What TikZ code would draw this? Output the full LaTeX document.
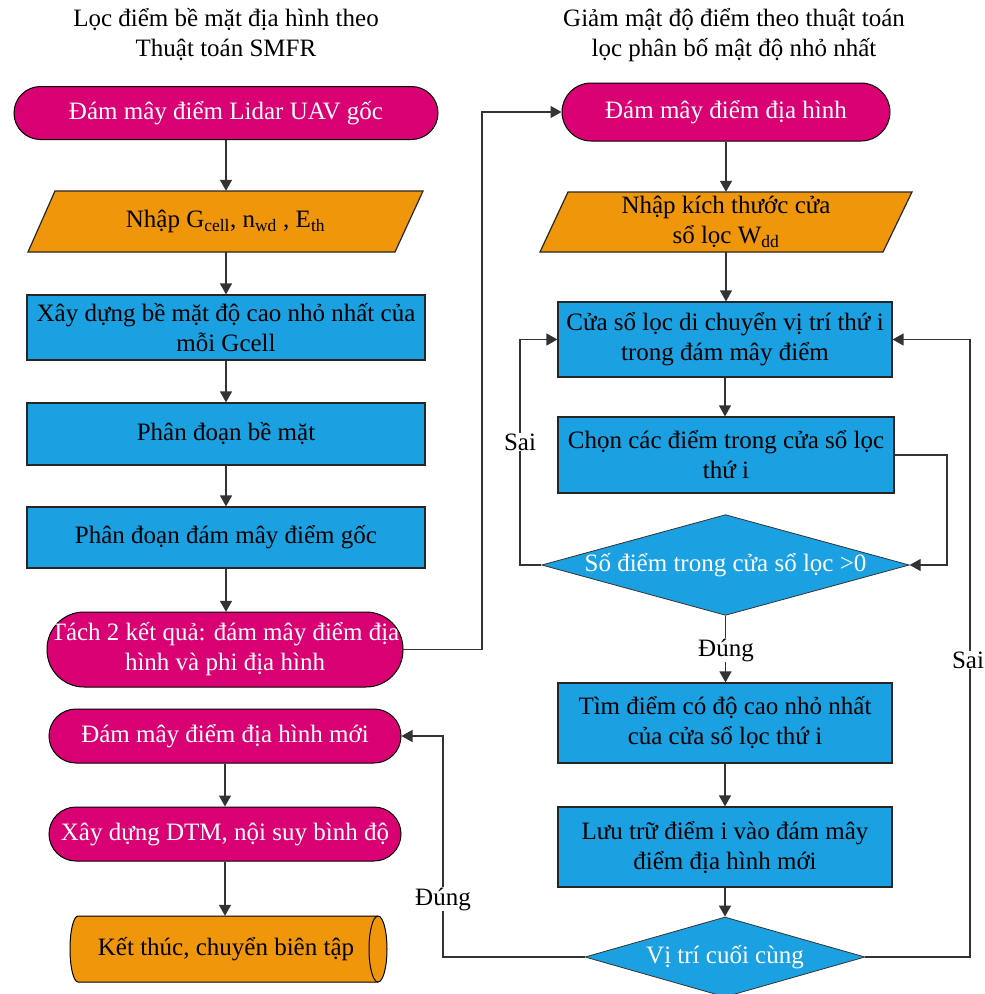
\documentclass[tikz,border=0pt]{standalone}
\usepackage{fontspec}
\setmainfont{Liberation Serif}
\usetikzlibrary{shapes.geometric,shapes.misc,arrows.meta,calc}
\definecolor{mag}{HTML}{D80073}
\definecolor{amb}{HTML}{F0960A}
\definecolor{cya}{HTML}{1BA1E2}
\definecolor{lin}{HTML}{333333}
\begin{document}
\begin{tikzpicture}[x=1pt,y=-1pt,
  every node/.style={font=\fontsize{25}{30}\selectfont, align=center, inner sep=2pt},
  term/.style={rounded rectangle, draw=black, line width=1pt, fill=mag, text=white},
  termfill/.style={fill=mag, draw=black, line width=1pt},
  proc/.style={rectangle, draw=black!85, line width=1.2pt, fill=cya, text=black},
  decis/.style={diamond, draw=black!80, line width=0.8pt, fill=cya, text=white, inner sep=0pt},
  iobox/.style={rectangle, inner sep=0pt, text=black},
  iofill/.style={fill=amb, draw=black!85, line width=1.2pt},
  cylfill/.style={fill=amb, draw=black, line width=1pt},
  conn/.style={draw=lin, line width=1.4pt},
  arr/.style={conn, -{Triangle[length=11pt,width=12pt]}},
  lbl/.style={fill=white, inner sep=1pt, text=black}
]
\useasboundingbox (0,0) rectangle (985,994);
\fill[white] (0,0) rectangle (985,994);

% titles
\node (tl) at (226,35) {Lọc điểm bề mặt địa hình theo\\Thuật toán SMFR};
\node (tr) at (734,35) {Giảm mật độ điểm theo thuật toán\\lọc phân bố mật độ nhỏ nhất};

% left column
\node[term, minimum width=428pt, minimum height=53pt] (L1) at (226,113) {Đám mây điểm Lidar UAV gốc};
\filldraw[iofill] (55,191) -- (423,191) -- (395,252) -- (28,252) -- cycle;
\node[iobox, minimum width=368pt, minimum height=61pt] (L2) at (225.5,221.5) {Nhập G\textsubscript{cell}, n\textsubscript{wd} , E\textsubscript{th}};
\node[proc, minimum width=398pt, minimum height=65pt] (L3) at (226,327.5) {Xây dựng bề mặt độ cao nhỏ nhất của\\mỗi Gcell};
\node[proc, minimum width=398pt, minimum height=62pt] (L4) at (226,434) {Phân đoạn bề mặt};
\node[proc, minimum width=398pt, minimum height=61pt] (L5) at (226,537.5) {Phân đoạn đám mây điểm gốc};
\filldraw[termfill, rounded corners=37pt] (47,612) rectangle (403,687);
\node[iobox, text=white, minimum width=356pt, minimum height=75pt] (L6) at (225,649.5) {Tách 2 kết quả: đám mây điểm địa\\hình và phi địa hình};
\node[term, minimum width=356pt, minimum height=54pt] (L7) at (225,736) {Đám mây điểm địa hình mới};
\node[term, minimum width=356pt, minimum height=54pt] (L8) at (225,834) {Xây dựng DTM, nội suy bình độ};
% cylinder (end terminal)
\filldraw[cylfill] (78,916) -- (378,916) arc[start angle=-90, end angle=90, x radius=9, y radius=33]
  -- (78,982) arc[start angle=90, end angle=270, x radius=8, y radius=33] -- cycle;
\draw[black, line width=1pt] (378,916) arc[start angle=-90, end angle=-270, x radius=9, y radius=33];
\node[iobox, minimum width=317pt, minimum height=66pt] (L9) at (226,949) {Kết thúc, chuyển biên tập};

% right column
\node[term, minimum width=332pt, minimum height=58pt] (R1) at (726,112) {Đám mây điểm địa hình};
\filldraw[iofill] (568,192) -- (912,192) -- (883,252) -- (540,252) -- cycle;
\node[iobox, minimum width=343pt, minimum height=60pt] (R2) at (726,222) {Nhập kích thước cửa\\sổ lọc W\textsubscript{dd}};
\node[proc, minimum width=334pt, minimum height=75pt] (R3) at (725,339.5) {Cửa sổ lọc di chuyển vị trí thứ i\\trong đám mây điểm};
\node[proc, minimum width=336pt, minimum height=76pt] (R4) at (726,455) {Chọn các điểm trong cửa sổ lọc\\thứ i};
\node[decis, aspect=3.65, minimum width=365pt, minimum height=100pt] (R5) at (725.5,565) {Số điểm trong cửa sổ lọc >0};
\node[proc, minimum width=334pt, minimum height=80pt] (R6) at (725,723) {Tìm điểm có độ cao nhỏ nhất\\của cửa sổ lọc thứ i};
\node[proc, minimum width=334pt, minimum height=80pt] (R7) at (725,847) {Lưu trữ điểm i vào đám mây\\điểm địa hình mới};
\node[decis, aspect=3.5, minimum width=280pt, minimum height=80pt] (R8) at (725,957) {Vị trí cuối cùng};

% helper coordinates
\coordinate (c1) at (482,649.5);
\coordinate (c2) at (482,112);
\coordinate (c3) at (443,957);
\coordinate (c4) at (443,736);
\coordinate (c5) at (947,455);
\coordinate (c6) at (947,565);
\coordinate (c7) at (520,565);
\coordinate (c8) at (520,339.5);
\coordinate (c9) at (970,957);
\coordinate (c10) at (970,339.5);

% left connectors
\draw[arr] (L1.south) -- (L1.south |- L2.north);
\draw[arr] (L1.south |- L2.south) -- (L1.south |- L3.north);
\draw[arr] (L3.south) -- (L4.north);
\draw[arr] (L4.south) -- (L5.north);
\draw[arr] (L5.south) -- (L5.south |- L6.north);
\draw[arr] (L6.east) -- (c1) -- (c2) -- (R1.west);
\draw[arr] (L7.south) -- (L7.south |- L8.north);
\draw[arr] (L8.south) -- (L8.south |- L9.north);
\draw[arr] (R8.west) -- (c3) -- (c4) -- (L7.east);
\node[lbl] (d1) at (443,899) {Đúng};

% right connectors
\draw[arr] (R1.south) -- (R1.south |- R2.north);
\draw[arr] (R1.south |- R2.south) -- (R1.south |- R3.north);
\draw[arr] (R3.south) -- (R3.south |- R4.north);
\draw[arr] (R4.east) -- (c5) -- (c6) -- (R5.east);
\draw[arr] (R5.west) -- (c7) -- (c8) -- (R3.west);
\node[lbl] (s1) at (520,442) {Sai};
\draw[arr] (R5.south) -- (R5.south |- R6.north);
\node[lbl] (d2) at (726,650) {Đúng};
\draw[arr] (R6.south) -- (R7.north);
\draw[arr] (R7.south) -- (R8.north);
\draw[arr] (R8.east) -- (c9) -- (c10) -- (R3.east);
\node[lbl] (s2) at (968,660) {Sai};
\end{tikzpicture}
\end{document}
